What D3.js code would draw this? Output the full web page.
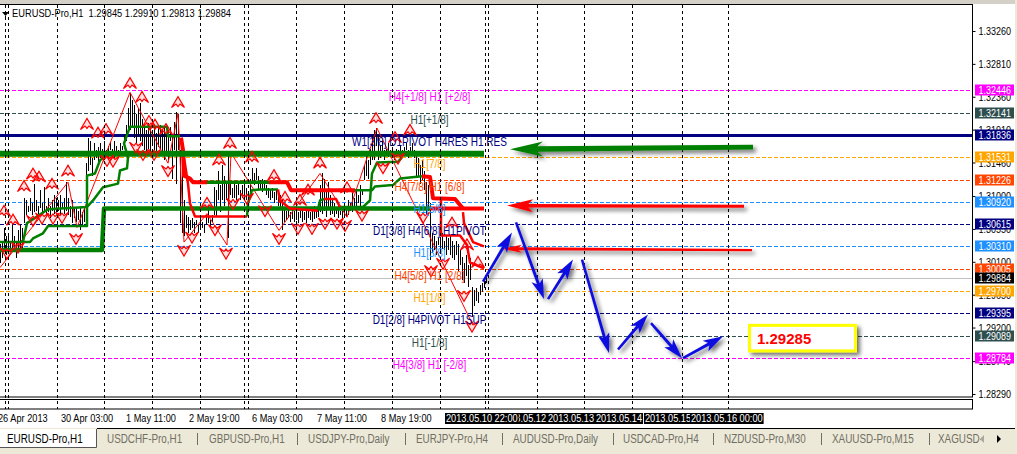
<!DOCTYPE html>
<html><head><meta charset="utf-8">
<script src="https://cdn.jsdelivr.net/npm/d3@7"></script>
<style>html,body{margin:0;padding:0;background:#fff;overflow:hidden}svg{display:block}text{font-family:"Liberation Sans",Arial,sans-serif}</style>
</head><body><div id="chart"></div>
<script>
const symbolTitle = "EURUSD-Pro,H1  1.29845 1.29910 1.29813 1.29884";
const priceTicks = [1.3326,1.3281,1.3236,1.3191,1.3146,1.31,1.3055,1.301,1.2965,1.292,1.2874,1.2829];
const levelPrices = [1.32446,1.32141,1.31836,1.31531,1.31226,1.3092,1.30615,1.3031,1.30005,1.297,1.29395,1.29089,1.28784,1.29884];
const levelColors = ["#ff00ff","#2f4f4f","#000080","#ffa500","#ff4500","#1e90ff","#000080","#1e90ff","#ff4500","#ffa500","#000080","#2f4f4f","#ff00ff","#000000"];
const levelSolid  = [0,0,1,0,0,0,0,0,0,0,0,0,0,2];
const levelTexts = ["H4[+1/8] H1 [+2/8]","H1[+1/8]","W1[3/8] D1PIVOT H4RES H1 RES","H1[7/8]","H4[7/8] H1 [6/8]","H1[5/8]","D1[3/8] H4[6/8] H1PIVOT","H1[3/8]","H4[5/8] H1 [2/8]","H1[1/8]","D1[2/8] H4PIVOT H1SUP","H1[-1/8]","H4[3/8] H1 [-2/8]"];
const separatorBars = [2.35,4.15,28.35,52.15,76.15,100.15,122.15,124.15,148.15,172,196,220,242.25,244.15,268.25,292.15,316.15,341.15,364.15];
const timeLabels = ["26 Apr 2013","30 Apr 03:00","1 May 11:00","2 May 19:00","6 May 03:00","7 May 11:00","8 May 19:00"];
const timeLabelBars = [-1,30.5,63,94.5,126,158.5,190.5];
const markerLabels = ["2013.05.12","2013.05.13","2013.05.14","2013.05.15","2013.05.16 00:00","2013.05.10 22:00"];
const markerLabelBars = [250,274,298,322.5,345.5,223];
const tabNames = ["USDCHF-Pro,H1","GBPUSD-Pro,H1","USDJPY-Pro,Daily","EURJPY-Pro,H4","AUDUSD-Pro,Daily","USDCAD-Pro,H4","NZDUSD-Pro,M30","XAUUSD-Pro,M15","XAGUSD-"];

const barHighs = [1.3035,1.3039,1.3056,1.3046,1.3050,1.3039,1.3060,1.3045,1.3037,1.3053,1.3060,1.3056,
1.3098,1.3094,1.3087,1.3098,1.3091,1.3117,1.3094,1.3087,1.3108,1.3090,1.3112,1.3087,1.3097,1.3087,1.3094,1.3101,
1.3098,1.3094,1.3101,1.3090,1.3097,1.3119,1.3097,1.3087,1.3094,1.3085,1.3083,1.3080,1.3085,1.3078,1.3083,
1.3145,1.3180,1.3176,1.3152,1.3172,1.3163,1.3167,
1.3172,1.3165,1.3176,1.3163,1.3169,1.3174,1.3165,1.3176,1.3168,1.3163,1.3172,1.3169,1.3183,
1.3197,1.3220,1.3241,1.3231,1.3224,1.3213,1.3220,1.3227,1.3206,
1.3197,1.3190,1.3200,1.3193,1.3190,1.3197,1.3187,1.3193,1.3197,1.3190,1.3193,
1.3183,1.3190,1.3194,1.3183,1.3201,1.3215,1.3213,
1.3163,1.3142,1.3094,1.3074,1.3071,1.3067,1.3070,1.3064,1.3067,1.3060,
1.3070,1.3064,1.3060,1.3074,1.3087,1.3067,1.3074,
1.3112,1.3108,1.3135,1.3115,1.3142,1.3128,1.3117,1.3159,
1.3117,1.3111,1.3117,1.3115,1.3119,1.3108,1.3115,1.3119,1.3111,1.3105,1.3124,
1.3139,1.3132,1.3138,1.3128,1.3122,1.3124,
1.3122,1.3115,1.3111,1.3108,1.3111,1.3105,1.3108,1.3101,
1.3101,1.3094,1.3085,1.3080,1.3085,1.3078,1.3082,
1.3080,1.3085,1.3078,1.3082,1.3085,1.3078,1.3080,1.3085,1.3078,1.3082,1.3087,1.3080,1.3085,
1.3115,1.3131,1.3124,1.3108,1.3119,1.3101,1.3094,
1.3090,1.3085,1.3087,1.3080,1.3083,1.3078,
1.3087,1.3094,1.3090,1.3104,1.3097,1.3108,1.3101,1.3115,1.3108,
1.3142,1.3159,1.3149,1.3165,1.3183,1.3190,1.3193,
1.3183,1.3169,1.3176,1.3163,1.3165,1.3172,1.3163,1.3167,1.3160,1.3165,1.3163,1.3169,
1.3163,1.3167,1.3172,1.3163,1.3167,1.3172,1.3163,1.3156,
1.3152,1.3142,1.3149,1.3135,1.3119,1.3115,
1.3090,1.3049,1.3046,1.3039,1.3042,
1.3044,1.3049,1.3039,1.3046,1.3042,1.3046,1.3039,
1.3033,1.3039,1.3035,1.3026,1.3016,1.3009,1.3019,
1.3005,1.3015,1.2975,1.2971,1.2974,1.2968,1.2978,
1.2981,1.2985,1.2991];
const barLows = [1.3009,1.3015,1.3026,1.3019,1.3023,1.3026,1.3026,1.3023,1.3015,1.3026,1.3028,1.3023,
1.3063,1.3074,1.3078,1.3080,1.3074,1.3078,1.3080,1.3075,1.3083,1.3076,1.3080,1.3074,1.3078,1.3070,1.3080,1.3076,
1.3078,1.3080,1.3074,1.3082,1.3076,1.3080,1.3074,1.3072,1.3063,1.3070,1.3064,1.3067,1.3053,1.3060,1.3064,
1.3090,1.3135,1.3142,1.3128,1.3149,1.3152,1.3142,
1.3152,1.3156,1.3149,1.3159,1.3153,1.3163,1.3156,1.3152,1.3160,1.3153,1.3156,1.3163,1.3165,
1.3176,1.3187,1.3190,1.3193,1.3179,1.3172,1.3183,1.3176,1.3169,
1.3163,1.3159,1.3165,1.3159,1.3169,1.3163,1.3156,1.3167,1.3163,1.3160,1.3149,
1.3156,1.3149,1.3176,1.3124,1.3163,1.3117,1.3163,
1.3063,1.3050,1.3046,1.3056,1.3050,1.3053,1.3056,1.3050,1.3060,1.3050,
1.3053,1.3056,1.3050,1.3060,1.3063,1.3056,1.3064,
1.3074,1.3071,1.3094,1.3078,1.3094,1.3087,1.3094,1.3042,
1.3101,1.3097,1.3098,1.3094,1.3101,1.3094,1.3097,1.3098,1.3094,1.3091,1.3101,
1.3119,1.3115,1.3122,1.3108,1.3108,1.3105,
1.3108,1.3101,1.3097,1.3094,1.3098,1.3091,1.3094,1.3087,
1.3083,1.3053,1.3064,1.3067,1.3070,1.3064,1.3068,
1.3064,1.3067,1.3063,1.3070,1.3064,1.3067,1.3063,1.3070,1.3067,1.3064,1.3068,1.3070,1.3071,
1.3078,1.3076,1.3080,1.3071,1.3085,1.3074,1.3076,
1.3071,1.3076,1.3070,1.3074,1.3067,1.3072,
1.3071,1.3074,1.3080,1.3078,1.3085,1.3083,1.3090,1.3087,1.3101,
1.3122,1.3128,1.3124,1.3142,1.3149,1.3149,1.3169,
1.3149,1.3152,1.3156,1.3149,1.3160,1.3153,1.3159,1.3156,1.3149,1.3153,1.3156,1.3152,
1.3153,1.3156,1.3163,1.3152,1.3156,1.3160,1.3152,1.3128,
1.3128,1.3117,1.3122,1.3108,1.3076,1.3080,
1.3012,1.3022,1.3026,1.3019,1.3033,
1.3022,1.3028,1.3026,1.3019,1.3026,1.3019,1.3015,
1.3012,1.3019,1.2998,1.3005,1.2985,1.2981,1.2991,
1.2975,1.2985,1.2934,1.2950,1.2957,1.2953,1.2964,
1.2968,1.2974,1.2981];

const zigzag = [[0,1.3002],[34,1.3119],[38.5,1.3057],[65,1.3242],[84,1.3145],[89,1.3213],[92,1.3037],[103.5,1.3076],[113.5,1.3033],[115.5,1.3159],[139.5,1.3053],[160,1.3131],[173.5,1.3071],[188.5,1.3193],[236.5,1.2923]];
const fractalsUp = [[65,1.3254],[71,1.3235],[89,1.3228],[43.5,1.3198],[49,1.3186],[53,1.3191],[74.5,1.3202],[77.5,1.3197],[83,1.3191],[16.5,1.3130],[19.5,1.3126],[12,1.3113],[26,1.3116],[34,1.3134],[6.5,1.3067],[2,1.3079],[115,1.3172],[109.5,1.3149],[126,1.3153],[137,1.3128],[160,1.3145],[154,1.3108],[150,1.3094],[103.5,1.3090],[142.5,1.3098],[188,1.3206],[205,1.3190],[197.5,1.3180],[173.5,1.3111],[226,1.3063],[233.5,1.3033],[239,1.3009]];
const fractalsDown = [[38,1.3042],[3.5,1.3022],[9,1.3030],[16.5,1.3067],[21,1.3070],[26.5,1.3070],[31,1.3071],[53.5,1.3149],[56.5,1.3148],[68,1.3167],[71.5,1.3157],[77,1.3157],[84,1.3135],[92,1.3026],[96,1.3044],[107.5,1.3054],[113,1.3022],[116.5,1.3090],[123.5,1.3097],[132.5,1.3080],[139.5,1.3042],[149,1.3056],[156,1.3056],[162.5,1.3063],[168.5,1.3063],[172.5,1.3060],[181,1.3074],[191.5,1.3139],[199,1.3152],[211.5,1.3071],[215.5,1.2998],[221.5,1.3008],[232,1.2964],[236,1.2922]];

const greenHeavy = [[0,1.3158],[242,1.3158]];
const greenH4 = [[0,1.3026],[51,1.3026],[52,1.3083],[215,1.3083]];
const redH4 = [[215,1.3083],[242,1.3083]];
const greenA = [[0,1.3037],[15,1.3037],[16.5,1.3042],[21.5,1.3049],[24,1.3059],[43.5,1.3059],[43.5,1.3128],[47.5,1.3131],[50,1.3149],[54,1.3157]];
const greenB = [[11.5,1.3037],[13.5,1.3063],[24,1.3082],[43.5,1.3085],[46.5,1.3094],[51.5,1.3112],[59,1.3117],[60,1.3135],[63.5,1.3138],[64,1.3153],[62,1.3172],[65,1.3195],[83.5,1.3195],[84,1.3182],[90,1.3182]];
const greenC = [[103.5,1.3119],[134.5,1.3119]];
const greenD = [[177.5,1.3108],[186,1.3108],[187.5,1.3113],[196.5,1.3115],[200,1.3124],[211,1.3127]];
const greenE = [[123.5,1.3072],[124,1.3090],[126,1.3108],[130,1.3109],[139,1.3109]];
const greenF = [[159,1.3082],[160,1.3094],[162,1.3096]];
const greenG = [[170,1.3085],[181.5,1.3085],[185,1.3094],[186,1.3131],[188.5,1.3146],[199,1.3147],[201,1.3153]];
const redA = [[90.5,1.3180],[91.5,1.3163],[92,1.3128],[95,1.3124],[96.5,1.3119],[103.5,1.3119]];
const redB = [[134.5,1.3119],[143.5,1.3119],[145.5,1.3108],[177.5,1.3108]];
const redC = [[211,1.3127],[215,1.3126],[216.5,1.3097],[227.5,1.3096],[231.5,1.3083]];
const redThin1 = [[92,1.3153],[94,1.3117],[95,1.3090],[97.5,1.3072],[123.5,1.3072]];
const redThin2 = [[139,1.3109],[140,1.3094],[145,1.3083],[159,1.3080]];
const redThin3 = [[162,1.3096],[168,1.3096],[170,1.3085]];
const redThin4 = [[220.5,1.3096],[220.5,1.3046],[230,1.3046],[233.5,1.3033],[235,1.3009],[236,1.3008],[242,1.3001]];
const redThin5 = [[231.5,1.3078],[232,1.3063],[236.5,1.3037],[242,1.3031]];

const greenArrow = [[376.5,1.3167],[255,1.3164]];
const redArrow1 = [[372,1.3086],[253.5,1.3087]];
const redArrow2 = [[376,1.3026],[251,1.3028]];
const blueArrows = [[[241.5,1.2983],[256,1.3050]],[[258,1.3064],[272,1.2959]],[[274,1.2959],[286.5,1.3013]],[[291,1.3013],[304.5,1.2885]],[[309,1.2890],[324,1.2938]],[[325.5,1.2926],[341,1.2878]],[[341.5,1.2878],[361.5,1.2908]]];
const targetBox = [[374,1.2925],[428.5,1.2886]];
const targetText = "1.29285";

const W=1017,H=454,plotRight=972.5,plotTop=5,plotBottom=397;
const x=d3.scaleLinear().domain([0,243]).range([0,486]);
const y=d3.scaleLinear().domain([1.2829,1.3326]).range([394,31]);
const fit=(sel,k)=>sel.each(function(){const w=this.getComputedTextLength();d3.select(this).attr("textLength",w*k).attr("lengthAdjust","spacingAndGlyphs");});
const svg=d3.select("#chart").append("svg").attr("width",W).attr("height",H);
const defs=svg.append("defs");
const sh=defs.append("filter").attr("id","sh")
  .attr("filterUnits","userSpaceOnUse").attr("x",0).attr("y",0).attr("width",W).attr("height",H);
sh.append("feDropShadow").attr("dx",3).attr("dy",3).attr("stdDeviation",2).attr("flood-color","#000").attr("flood-opacity",.55);
defs.append("clipPath").attr("id","plot").append("rect").attr("x",0).attr("y",plotTop).attr("width",plotRight).attr("height",plotBottom-plotTop);

svg.append("rect").attr("width",W).attr("height",H).attr("fill","#fff");
svg.append("rect").attr("width",W).attr("height",4).attr("fill","#d4d0c8");
svg.append("rect").attr("x",1015).attr("width",2).attr("height",H).attr("fill","#ece9d8");

const plot=svg.append("g").attr("clip-path","url(#plot)");
svg.append("g").selectAll("line").data(separatorBars).join("line")
  .attr("x1",d=>Math.round(x(d))+.5).attr("x2",d=>Math.round(x(d))+.5).attr("y1",plotTop).attr("y2",409)
  .attr("stroke","#000").attr("stroke-dasharray","3,3").attr("shape-rendering","crispEdges");
plot.append("g").selectAll("line").data(levelPrices).join("line")
  .attr("x1",0).attr("x2",plotRight).attr("y1",d=>Math.round(y(d))+.5).attr("y2",d=>Math.round(y(d))+.5)
  .attr("stroke",(d,i)=>levelSolid[i]==2?"#c0c0c0":levelColors[i])
  .attr("stroke-width",(d,i)=>levelSolid[i]==1?2.5:1)
  .attr("stroke-dasharray",(d,i)=>levelSolid[i]?null:"4,2").attr("shape-rendering","crispEdges");
plot.append("g").selectAll("line").data(barHighs).join("line")
  .attr("x1",(d,i)=>x(i)+.5).attr("x2",(d,i)=>x(i)+.5).attr("y1",d=>y(d)).attr("y2",(d,i)=>y(barLows[i]))
  .attr("stroke","#000").attr("shape-rendering","crispEdges");
const ln=d3.line().x(d=>x(d[0])).y(d=>y(d[1]));
const stroke=(g,data,c,w)=>g.append("path").attr("d",ln(data)).attr("fill","none").attr("stroke",c).attr("stroke-width",w).attr("stroke-linejoin","round");
stroke(plot,zigzag,"#f00",1);
[greenA,greenB,greenE,greenF,greenG,greenD].forEach(d=>stroke(plot,d,"#008000",2.5));
stroke(plot,greenH4,"#008000",4.5); stroke(plot,greenC,"#008000",3.5);
[redThin1,redThin2,redThin3,redThin4,redThin5].forEach(d=>stroke(plot,d,"#f00",2.5));
[redA,redB,redC,redH4].forEach(d=>stroke(plot,d,"#f00",4));
stroke(plot,greenHeavy,"#008000",6);
const upGlyph="M-6.5,5L0,-6L6.5,5L2,1.5L0,4L-2,1.5Z", dnGlyph="M-6.5,-5L0,6L6.5,-5L2,-1.5L0,-4L-2,-1.5Z";
const frac=(data,g)=>plot.append("g").selectAll("path").data(data).join("path")
  .attr("transform",d=>`translate(${x(d[0])},${y(d[1])})`).attr("d",g).attr("fill","#f00").attr("fill-opacity",.12).attr("stroke","#f00").attr("stroke-width",1.2);
frac(fractalsUp,upGlyph); frac(fractalsDown,dnGlyph);
plot.append("g").selectAll("text").data(levelTexts).join("text")
  .attr("x",429.5).attr("y",(d,i)=>y(levelPrices[i])+11).attr("text-anchor","middle")
  .attr("font-size",12.5).attr("fill",(d,i)=>levelColors[i]).text(d=>d).call(fit,.8);
function arrow(g,data,c,shaft,hl,hw){
  const [a,b]=data, ax=x(a[0]),ay=y(a[1]),bx=x(b[0]),by=y(b[1]);
  const L=Math.hypot(bx-ax,by-ay),ux=(bx-ax)/L,uy=(by-ay)/L,nx=-uy,ny=ux;
  const p=(t,s)=>[ax+ux*t+nx*s,ay+uy*t+ny*s];
  const pts=[p(0,-shaft*.42),p(L-hl*.82,-shaft/2),p(L-hl,-hw),p(L,0),p(L-hl,hw),p(L-hl*.82,shaft/2),p(0,shaft*.42)];
  g.append("polygon").attr("points",pts.map(q=>q.join(",")).join(" ")).attr("fill",c);
}
const ag=svg.append("g").attr("filter","url(#sh)");
arrow(ag,greenArrow,"#008000",5.5,33,7.5);
arrow(ag,redArrow1,"#f00",3.5,26,6.5);
arrow(ag,redArrow2,"#f00",2.8,20,4);
blueArrows.forEach(d=>arrow(ag,d,"#1010e0",3,20,6));
const bg=svg.append("g");
bg.append("rect").attr("x",x(targetBox[0][0])+1.5).attr("y",y(targetBox[0][1])+1.5)
  .attr("width",x(targetBox[1][0])-x(targetBox[0][0])-3).attr("height",y(targetBox[1][1])-y(targetBox[0][1])-3)
  .attr("fill","#fff").attr("stroke","#ffff00").attr("stroke-width",3).attr("filter","url(#sh)");
bg.append("text").attr("x",x(targetBox[0][0])+9).attr("y",y(targetBox[1][1])-8.5)
  .attr("font-size",15).attr("font-weight","bold").attr("fill","#f00").text(targetText);
svg.append("rect").attr("x",-1).attr("y",plotTop-.5).attr("width",plotRight+1).attr("height",plotBottom-plotTop+.5).attr("fill","none").attr("stroke","#000");
svg.append("rect").attr("x",-1).attr("y",399.5).attr("width",plotRight+1).attr("height",9.5).attr("fill","none").attr("stroke","#000");
const yAxis=d3.axisRight(y).tickValues(priceTicks).tickSize(3).tickPadding(3).tickFormat(d=>d.toFixed(5));
const ya=svg.append("g").attr("transform",`translate(${plotRight},0)`).call(yAxis);
ya.select(".domain").remove();
ya.selectAll("text").attr("font-size",11.5).attr("font-family","'Liberation Sans',Arial,sans-serif").attr("fill","#000").call(fit,.78);
ya.selectAll("line").attr("stroke","#000");
const pb=svg.append("g").selectAll("g").data(levelPrices).join("g").attr("transform",d=>`translate(975,${Math.round(y(d))})`);
pb.append("rect").attr("y",-5.5).attr("width",39).attr("height",11).attr("fill",(d,i)=>levelColors[i]);
pb.append("text").attr("x",3.5).attr("y",4.2).attr("font-size",11.5).attr("fill","#fff").text(d=>d.toFixed(5)).call(fit,.78);
svg.append("g").selectAll("text").data(timeLabels).join("text").attr("x",(d,i)=>x(timeLabelBars[i])).attr("y",422)
  .attr("font-size",11.5).attr("fill","#000").text(d=>d).call(fit,.8);
markerLabels.forEach((t,i)=>{
  const g=svg.append("g");
  const tx=g.append("text").attr("x",x(markerLabelBars[i])).attr("y",422).attr("font-size",11.5).attr("fill","#fff").text(t);
  const w=tx.node().getComputedTextLength()*.8;
  tx.attr("textLength",w).attr("lengthAdjust","spacingAndGlyphs");
  g.insert("rect","text").attr("x",x(markerLabelBars[i])-1).attr("y",413).attr("width",w+2).attr("height",11).attr("fill","#000");
});
svg.append("rect").attr("y",428).attr("width",W).attr("height",26).attr("fill","#ece9d8");
svg.append("line").attr("x1",97).attr("x2",1015).attr("y1",428.5).attr("y2",428.5).attr("stroke","#000");
svg.append("path").attr("d","M0,429H96.5V447.5H0Z").attr("fill","#fff");
svg.append("path").attr("d","M96.5,429V447.5H0").attr("fill","none").attr("stroke","#555");
svg.append("text").attr("x",7).attr("y",443).attr("font-size",12.5).attr("fill","#000").text("EURUSD-Pro,H1").call(fit,.79);
const tabX=[107,209,308,416,513,623,724,832,938], sepX=[197,297,405,502,613,713,821,929];
svg.append("g").selectAll("text").data(tabNames).join("text").attr("x",(d,i)=>tabX[i]).attr("y",443)
  .attr("font-size",12.5).attr("fill","#716f64").text(d=>d).call(fit,.79);
svg.append("g").selectAll("line").data(sepX).join("line").attr("x1",d=>d+.5).attr("x2",d=>d+.5).attr("y1",433).attr("y2",445).attr("stroke","#716f64");
svg.append("path").attr("d","M984,435L980,439L984,443Z").attr("fill","#aca899");
svg.append("path").attr("d","M997,435L1001,439L997,443Z").attr("fill","#000");
svg.append("path").attr("d","M2,12H9L5.5,16Z").attr("fill","#000");
svg.append("path").attr("d","M5,16H6V18H5Z").attr("fill","#000");
svg.append("text").attr("x",12).attr("y",17).attr("font-size",11.5).style("white-space","pre").attr("fill","#000").text(symbolTitle).call(fit,.81);
</script></body></html>
